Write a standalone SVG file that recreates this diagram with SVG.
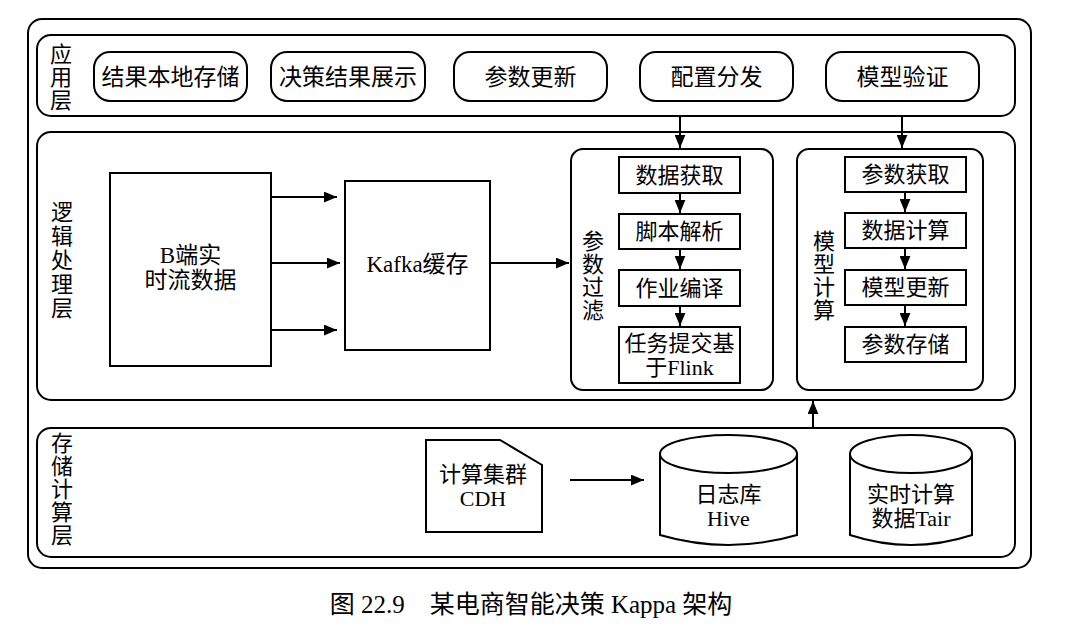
<svg xmlns="http://www.w3.org/2000/svg" width="1072" height="639" viewBox="0 0 1072 639">
<defs>
<style>
.frame{fill:none;stroke:#000;stroke-width:2}
.node{fill:#fff;stroke:#000;stroke-width:2}
.t{font-family:"Liberation Serif","Noto Sans CJK SC",serif;font-size:22px;fill:#000;text-anchor:middle}
.tb{font-family:"Liberation Serif","Noto Sans CJK SC",serif;font-size:23px;fill:#000;text-anchor:middle}
.lbl{font-family:"Liberation Serif","Noto Sans CJK SC",serif;font-size:22px;fill:#000;text-anchor:middle}
.c{fill:none;stroke:#000;stroke-width:2}
</style>
<marker id="ah" viewBox="0 0 12 10" refX="12" refY="5" markerWidth="6.5" markerHeight="5.5" orient="auto" markerUnits="strokeWidth">
<path d="M0,0 L12,5 L0,10 z" fill="#000"/>
</marker>
</defs>
<rect width="1072" height="639" fill="#fff"/>

<g id="outer"><rect class="frame" x="28" y="19" width="1003" height="549" rx="14"/></g>

<g id="app-layer">
<rect class="frame" x="37" y="35" width="978" height="81" rx="14"/>
<text class="lbl" x="61" y="62">应</text>
<text class="lbl" x="61" y="85">用</text>
<text class="lbl" x="61" y="108">层</text>
</g>
<g id="n-jgbdcc"><rect class="node" x="94" y="52" width="153" height="49" rx="16"/><text class="tb" x="170.5" y="85">结果本地存储</text></g>
<g id="n-jcjgzs"><rect class="node" x="271" y="52" width="154" height="49" rx="16"/><text class="tb" x="348" y="85">决策结果展示</text></g>
<g id="n-csgx"><rect class="node" x="454" y="52" width="153" height="49" rx="16"/><text class="tb" x="530.5" y="85">参数更新</text></g>
<g id="n-pzff"><rect class="node" x="640" y="52" width="153" height="49" rx="16"/><text class="tb" x="716.5" y="85">配置分发</text></g>
<g id="n-mxyz"><rect class="node" x="826" y="52" width="153" height="49" rx="16"/><text class="tb" x="902.5" y="85">模型验证</text></g>

<g id="logic-layer">
<rect class="frame" x="37" y="132" width="978" height="268" rx="14"/>
<text class="lbl" x="62" y="220">逻</text>
<text class="lbl" x="62" y="244">辑</text>
<text class="lbl" x="62" y="268">处</text>
<text class="lbl" x="62" y="292">理</text>
<text class="lbl" x="62" y="316">层</text>
</g>
<g id="n-bstream"><rect class="node" x="110" y="173" width="161" height="193"/><text class="tb" x="190.5" y="263">B端实</text><text class="tb" x="190.5" y="288">时流数据</text></g>
<g id="n-kafka"><rect class="node" x="345" y="181" width="145" height="169"/><text class="tb" x="417.5" y="272">Kafka缓存</text></g>

<g id="n-csgl">
<rect class="node" x="571" y="149" width="202" height="241" rx="12"/>
<text class="lbl" x="593" y="249">参</text>
<text class="lbl" x="593" y="272">数</text>
<text class="lbl" x="593" y="295">过</text>
<text class="lbl" x="593" y="318">滤</text>
</g>
<g id="n-sjhq"><rect class="node" x="619" y="157" width="121" height="36"/><text class="t" x="679.5" y="183">数据获取</text></g>
<g id="n-jbjx"><rect class="node" x="619" y="214" width="121" height="35"/><text class="t" x="679.5" y="239">脚本解析</text></g>
<g id="n-zybz"><rect class="node" x="619" y="270" width="121" height="36"/><text class="t" x="679.5" y="296">作业编译</text></g>
<g id="n-rwtj"><rect class="node" x="619" y="327" width="121" height="56"/><text class="t" x="679.5" y="351">任务提交基</text><text class="t" x="679.5" y="375">于Flink</text></g>

<g id="n-mxjs">
<rect class="node" x="797" y="149" width="186" height="241" rx="12"/>
<text class="lbl" x="824" y="249">模</text>
<text class="lbl" x="824" y="272">型</text>
<text class="lbl" x="824" y="295">计</text>
<text class="lbl" x="824" y="318">算</text>
</g>
<g id="n-cshq"><rect class="node" x="845" y="157" width="121" height="35"/><text class="t" x="905.5" y="182">参数获取</text></g>
<g id="n-sjjs"><rect class="node" x="845" y="213" width="121" height="35"/><text class="t" x="905.5" y="238">数据计算</text></g>
<g id="n-mxgx"><rect class="node" x="845" y="270" width="121" height="35"/><text class="t" x="905.5" y="295">模型更新</text></g>
<g id="n-cscc"><rect class="node" x="845" y="327" width="121" height="35"/><text class="t" x="905.5" y="352">参数存储</text></g>

<g id="storage-layer">
<rect class="frame" x="37" y="428" width="978" height="129" rx="14"/>
<text class="lbl" x="62" y="451">存</text>
<text class="lbl" x="62" y="474">储</text>
<text class="lbl" x="62" y="497">计</text>
<text class="lbl" x="62" y="520">算</text>
<text class="lbl" x="62" y="543">层</text>
</g>
<g id="n-cdh"><path class="node" d="M426,440 L500,440 L542,465 L542,532 L426,532 Z"/><text class="t" x="483" y="482">计算集群</text><text class="t" x="483" y="506">CDH</text></g>
<g id="n-hive"><path class="node" d="M660,454 A68.5,19 0 0 1 797,454 L797,535 Q728.5,555 660,535 Z"/><path class="c" d="M660,454 A68.5,19 0 0 0 797,454"/><text class="t" x="728.5" y="502">日志库</text><text class="t" x="728.5" y="526">Hive</text></g>
<g id="n-tair"><path class="node" d="M850,454 A61,19 0 0 1 972,454 L972,535 Q911,555 850,535 Z"/><path class="c" d="M850,454 A61,19 0 0 0 972,454"/><text class="t" x="911" y="502">实时计算</text><text class="t" x="911" y="526">数据Tair</text></g>

<g id="connectors">
<line class="c" x1="680" y1="116" x2="680" y2="148" marker-end="url(#ah)"/>
<line class="c" x1="902" y1="116" x2="902" y2="148" marker-end="url(#ah)"/>
<line class="c" x1="271" y1="197" x2="337" y2="197" marker-end="url(#ah)"/>
<line class="c" x1="271" y1="263" x2="340" y2="263" marker-end="url(#ah)"/>
<line class="c" x1="271" y1="330" x2="337" y2="330" marker-end="url(#ah)"/>
<line class="c" x1="490" y1="263" x2="569" y2="263" marker-end="url(#ah)"/>
<line class="c" x1="680" y1="193" x2="680" y2="213" marker-end="url(#ah)"/>
<line class="c" x1="680" y1="249" x2="680" y2="269" marker-end="url(#ah)"/>
<line class="c" x1="680" y1="306" x2="680" y2="326" marker-end="url(#ah)"/>
<line class="c" x1="905" y1="192" x2="905" y2="212" marker-end="url(#ah)"/>
<line class="c" x1="905" y1="248" x2="905" y2="269" marker-end="url(#ah)"/>
<line class="c" x1="905" y1="305" x2="905" y2="326" marker-end="url(#ah)"/>
<line class="c" x1="813" y1="428" x2="813" y2="401" marker-end="url(#ah)"/>
<line class="c" x1="570" y1="480" x2="644" y2="480" marker-end="url(#ah)"/>
</g>

<text x="531" y="613" style="font-family:'Liberation Serif','Noto Sans CJK SC',serif;font-size:25px;text-anchor:middle">图 22.9　某电商智能决策 Kappa 架构</text>
</svg>
